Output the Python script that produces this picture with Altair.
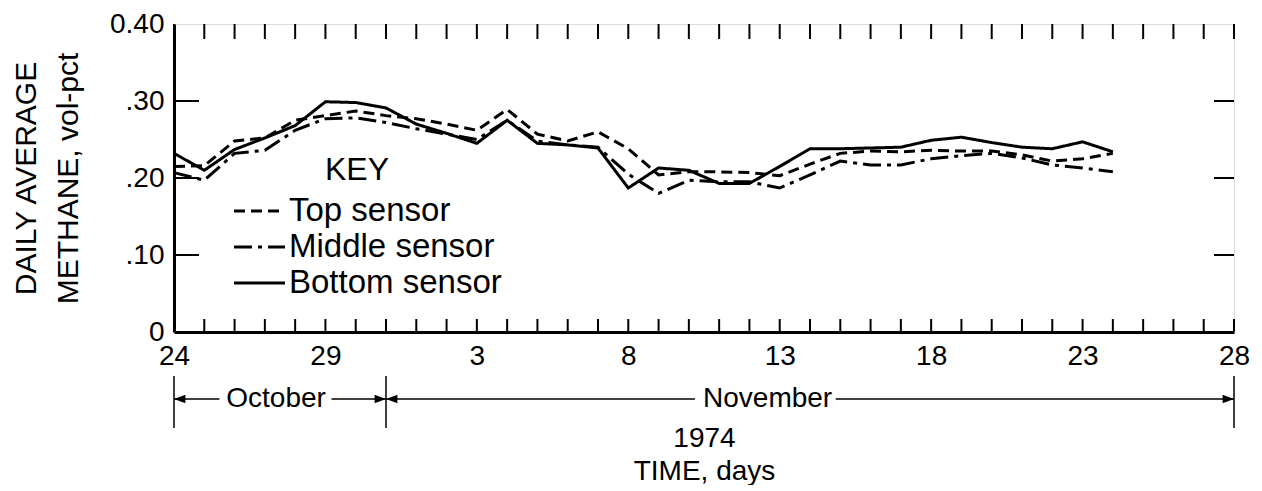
import altair as alt
import pandas as pd

# ---------------- data ----------------
DAYS = list(range(32))  # day 0 = Oct 24, 1974
TOP = [0.215, 0.216, 0.248, 0.252, 0.275, 0.281, 0.287, 0.281, 0.277, 0.270,
       0.262, 0.289, 0.257, 0.248, 0.260, 0.238, 0.204, 0.208, 0.208, 0.207,
       0.203, 0.218, 0.232, 0.235, 0.234, 0.236, 0.235, 0.235, 0.230, 0.222,
       0.225, 0.232]
MIDDLE = [0.207, 0.197, 0.232, 0.236, 0.262, 0.277, 0.278, 0.272, 0.264, 0.257,
          0.250, 0.275, 0.248, 0.243, 0.240, 0.205, 0.180, 0.197, 0.195, 0.195,
          0.187, 0.204, 0.222, 0.217, 0.217, 0.225, 0.229, 0.232, 0.226, 0.217,
          0.213, 0.208]
BOTTOM = [0.232, 0.210, 0.237, 0.252, 0.268, 0.299, 0.298, 0.291, 0.270, 0.258,
          0.245, 0.275, 0.245, 0.243, 0.239, 0.187, 0.213, 0.210, 0.193, 0.193,
          0.215, 0.238, 0.238, 0.239, 0.240, 0.249, 0.253, 0.246, 0.240, 0.238,
          0.247, 0.234]
SENSORS = ["Top sensor", "Middle sensor", "Bottom sensor"]
DASHES = [[11, 6], [18, 6, 4, 6], [1, 0]]

X_TICK_DAYS = [0, 5, 10, 15, 20, 25, 30, 35]
X_TICK_LABELS = ["24", "29", "3", "8", "13", "18", "23", "28"]
Y_TICK_VALUES = [0, 0.1, 0.2, 0.3, 0.4]
Y_TICK_LABELS = ["0", ".10", ".20", ".30", "0.40"]
MINOR_DAYS = list(range(36))
INNER_Y_TICKS = [0.1, 0.2, 0.3]

MONTH_BOUNDS = [0, 7, 35]
MONTH_NAMES = ["October", "November"]
MONTH_LABEL_DAYS = [3.37, 19.6]
ARROW_STARTS = [0, 5.2, 7, 21.85]
ARROW_ENDS = [1.5, 7, 17.2, 35]
LEFT_ARROW_DAYS = [0, 7]
RIGHT_ARROW_DAYS = [7, 35]
X_TITLE = ["1974", "TIME, days"]
Y_TITLE = ["DAILY AVERAGE", "METHANE, vol-pct"]
KEY_TITLE = "KEY"

# ---------------- chart ----------------
W, H = 1060, 308
SANS = "Liberation Sans, Arial, sans-serif"

rows = []
for name, vals in zip(SENSORS, [TOP, MIDDLE, BOTTOM]):
    for d, v in zip(DAYS, vals):
        rows.append({"day": d, "value": v, "sensor": name})
df = pd.DataFrame(rows)

xscale = alt.Scale(domain=[0, 35], nice=False, zero=False)
yscale = alt.Scale(domain=[0, 0.4], nice=False, zero=True)

x_label_expr = "[" + ",".join(f"'{s}'" for s in X_TICK_LABELS) + "][indexof([" + \
    ",".join(str(v) for v in X_TICK_DAYS) + "], datum.value)]"
y_label_expr = "[" + ",".join(f"'{s}'" for s in Y_TICK_LABELS) + "][indexof([0,1,2,3,4], round(datum.value*10))]"

x_axis = alt.Axis(
    values=X_TICK_DAYS, labelExpr=x_label_expr, ticks=False, grid=False,
    domainWidth=3, domainColor="black", labelFont=SANS, labelFontSize=28,
    labelColor="black", labelPadding=10, labelOverlap=False, labelFlush=False,
    title=X_TITLE, titleFont=SANS, titleFontSize=28, titleFontWeight="normal",
    titleColor="black", titleY=92, titleBaseline="top", titleLineHeight=33,
)
y_axis = alt.Axis(
    values=Y_TICK_VALUES, labelExpr=y_label_expr, ticks=False, grid=False,
    domainWidth=3, domainColor="black", labelFont=SANS, labelFontSize=28,
    labelColor="black", labelPadding=10, labelOverlap=False, labelFlush=False,
    title=Y_TITLE, titleFont=SANS, titleFontSize=30, titleFontWeight="normal",
    titleColor="black", titleAngle=270, titleX=-163, titleBaseline="top",
    titleLineHeight=42, titleAlign="center",
)

lines = alt.Chart(df).mark_line(strokeWidth=3, color="black").encode(
    x=alt.X("day:Q", scale=xscale, axis=x_axis),
    y=alt.Y("value:Q", scale=yscale, axis=y_axis),
    strokeDash=alt.StrokeDash("sensor:N", scale=alt.Scale(domain=SENSORS, range=DASHES), legend=None),
    order="day:Q",
)

minor = pd.DataFrame({"day": MINOR_DAYS})
bottom_ticks = alt.Chart(minor).mark_rule(color="black", strokeWidth=2).encode(
    x=alt.X("day:Q", scale=xscale), y=alt.value(H), y2=alt.value(H - 13))
top_ticks = alt.Chart(minor).mark_rule(color="black", strokeWidth=2).encode(
    x=alt.X("day:Q", scale=xscale), y=alt.value(0), y2=alt.value(15))
ymaj = pd.DataFrame({"value": INNER_Y_TICKS})
left_ticks = alt.Chart(ymaj).mark_rule(color="black", strokeWidth=2).encode(
    y=alt.Y("value:Q", scale=yscale), x=alt.value(0), x2=alt.value(25))
right_ticks = alt.Chart(ymaj).mark_rule(color="black", strokeWidth=2).encode(
    y=alt.Y("value:Q", scale=yscale), x=alt.value(W - 20), x2=alt.value(W))

# legend (key)
key_title = alt.Chart(pd.DataFrame({"t": [KEY_TITLE]})).mark_text(
    font=SANS, fontSize=32, color="black", align="center", baseline="middle").encode(
    text="t:N", x=alt.value(183), y=alt.value(146))
legend_layers = [key_title]
for i, name in enumerate(SENSORS):
    ldf = pd.DataFrame({"sensor": [name]})
    legend_layers.append(alt.Chart(ldf).mark_rule(color="black", strokeWidth=3).encode(
        x=alt.value(60), x2=alt.value(111), y=alt.value(187 + 36 * i),
        strokeDash=alt.value(DASHES[i])))
    legend_layers.append(alt.Chart(ldf).mark_text(
        font=SANS, fontSize=33, color="black", align="left", baseline="middle").encode(
        text="sensor:N", x=alt.value(115), y=alt.value(187 + 36 * i)))

# month annotation below the axis
bounds_df = pd.DataFrame({"day": MONTH_BOUNDS})
month_bounds = alt.Chart(bounds_df).mark_rule(color="black", strokeWidth=1.5).encode(
    x=alt.X("day:Q", scale=xscale), y=alt.value(352), y2=alt.value(404))
seg_df = pd.DataFrame({"start": ARROW_STARTS, "end": ARROW_ENDS})
arrows = alt.Chart(seg_df).mark_rule(color="black", strokeWidth=1.5).encode(
    x=alt.X("start:Q", scale=xscale), x2="end:Q", y=alt.value(375))
left_heads = alt.Chart(pd.DataFrame({"day": LEFT_ARROW_DAYS})).mark_point(
    shape="M0,0L2,-0.75L2,0.75Z", filled=True, size=130, color="black", opacity=1).encode(
    x=alt.X("day:Q", scale=xscale), y=alt.value(375))
right_heads = alt.Chart(pd.DataFrame({"day": RIGHT_ARROW_DAYS})).mark_point(
    shape="M0,0L-2,-0.75L-2,0.75Z", filled=True, size=130, color="black", opacity=1).encode(
    x=alt.X("day:Q", scale=xscale), y=alt.value(375))
month_text = alt.Chart(pd.DataFrame({"day": MONTH_LABEL_DAYS, "name": MONTH_NAMES})).mark_text(
    font=SANS, fontSize=28, color="black", align="center", baseline="middle").encode(
    x=alt.X("day:Q", scale=xscale), y=alt.value(375), text="name:N")

chart = alt.layer(
    lines, bottom_ticks, top_ticks, left_ticks, right_ticks,
    *legend_layers, month_bounds, arrows, left_heads, right_heads, month_text,
).properties(
    width=W, height=H, padding={"left": 3, "top": 2, "right": 0, "bottom": 0}
).configure_view(
    stroke="black", strokeWidth=2.5
).configure(background="white")

chart.save("out.html", embed_options={"renderer": "svg", "actions": False})
